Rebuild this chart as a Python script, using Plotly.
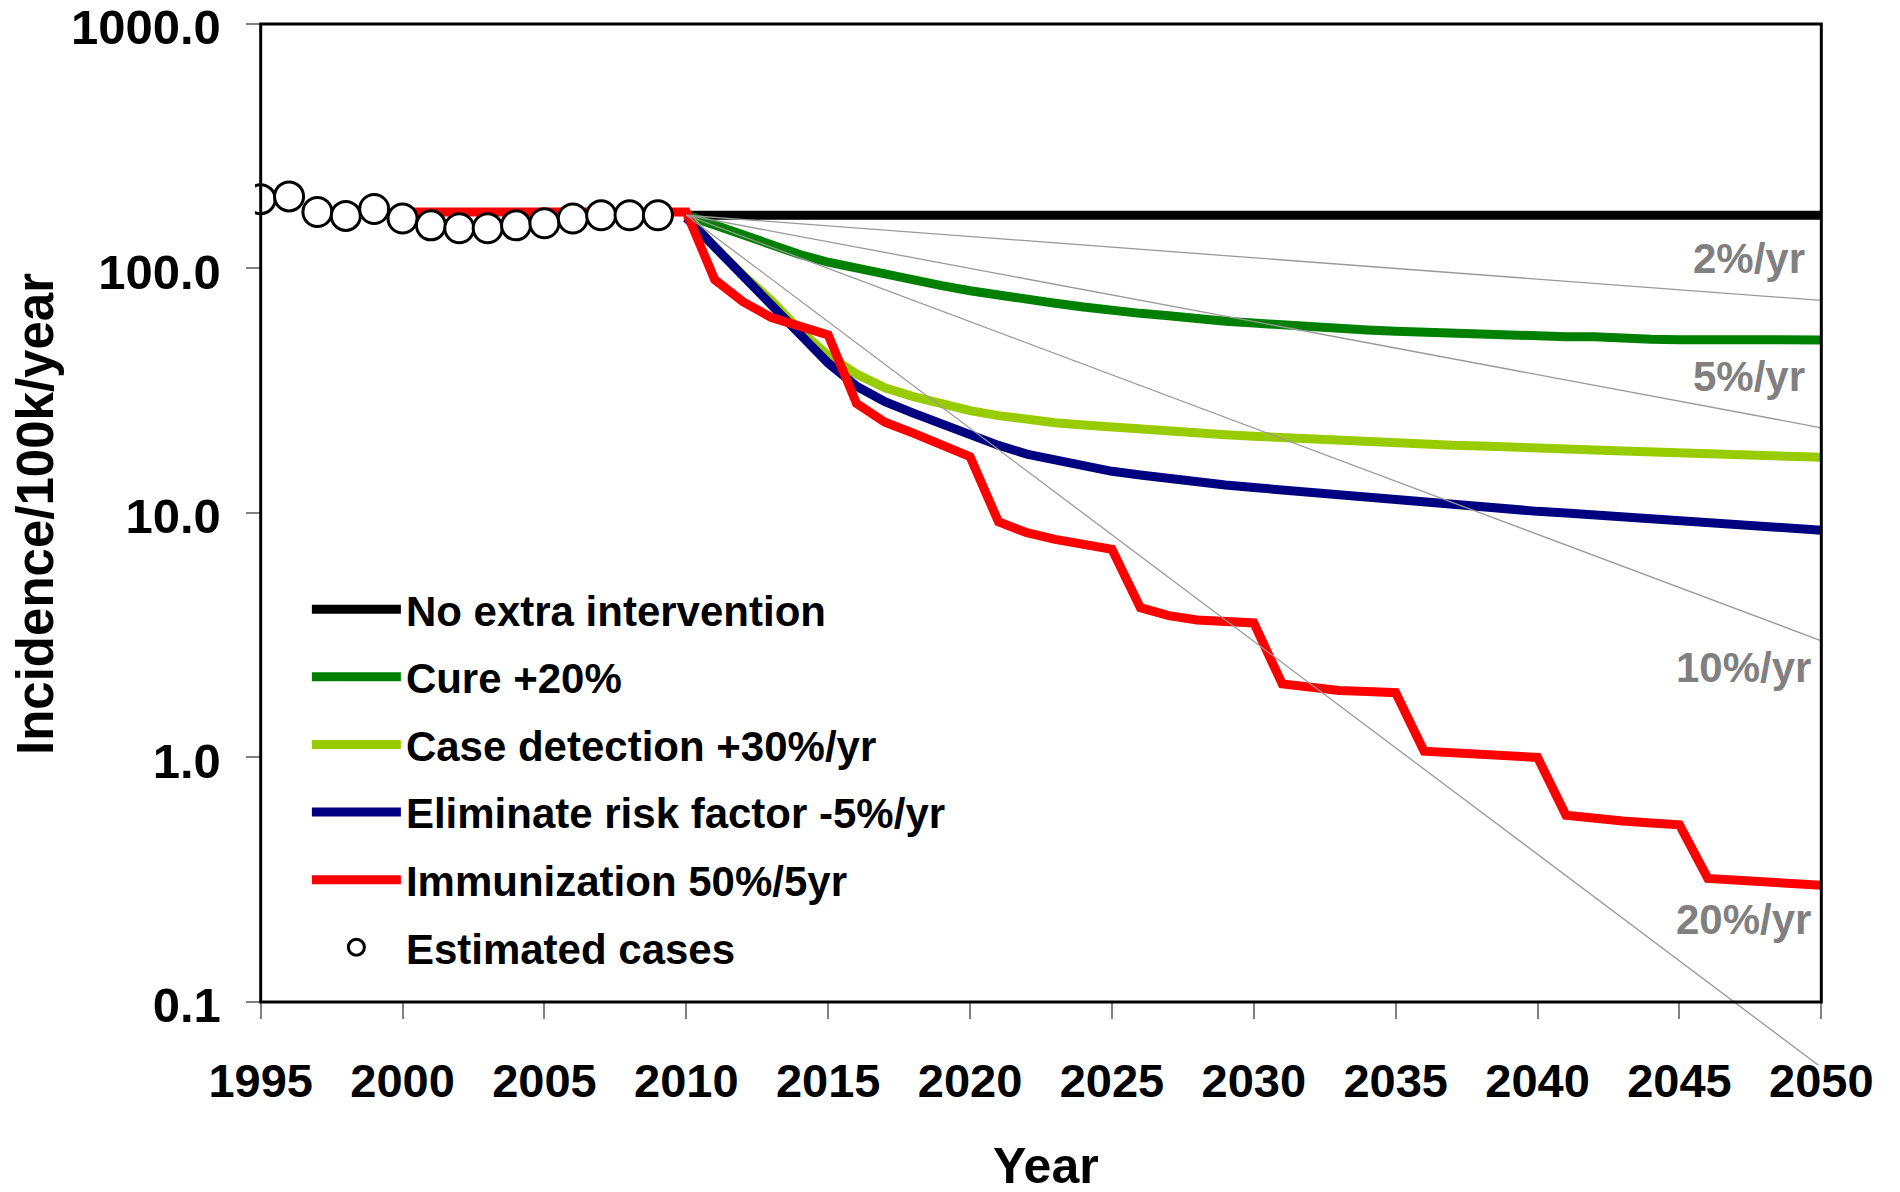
import plotly.graph_objects as go

# ---------------- data ----------------
obs_years = list(range(1995, 2010))
obs_values = [192, 197, 170, 164, 175, 160, 150, 146, 146, 150, 153, 160, 165, 165, 165]

model_years = list(range(2010, 2051))

black_years = [2010, 2050]
black_values = [165, 165]

green_values = [165, 150, 136, 124, 114, 106, 100, 94, 89, 85, 81, 77.5, 74.5, 72, 69.5,
                 67, 65.5, 64, 62, 60.8, 59.8, 58.6, 57.8, 57, 56, 55.3, 54.7, 54, 53.4, 53,
                 52.8, 52.6, 52.5, 52.4, 51.3, 51.1, 51.1, 51, 51, 51, 51]

lime_values = [165, 122, 94, 74, 56, 44, 37, 32.5, 29.9, 27.8, 26.2, 25, 24.1, 23.4, 22.9,
               22.4, 22, 21.6, 21.2, 20.9, 20.6, 20.3, 20, 19.8, 19.5, 19.3, 19.1, 18.9, 18.8,
               18.7, 18.5, 18.3, 18.1, 17.9, 17.7, 17.5, 17.4, 17.3, 17.1, 17.0, 16.9]

blue_values = [161, 122, 93, 71, 53, 41, 33, 28.5, 25.6, 23, 20.8, 18.9, 17.4, 16.4, 15.5,
               14.8, 14.3, 13.8, 13.4, 13.0, 12.7, 12.4, 12.1, 11.8, 11.55, 11.3, 11.05, 10.8,
               10.55, 10.3, 10.15, 10.0, 9.8, 9.65, 9.5, 9.3, 9.15, 9.0, 8.8, 8.65, 8.5]

red_years = [2000] + model_years
red_values = [170, 170, 90, 73, 63, 58, 53.5, 28, 23.5, 21.2, 19, 17, 9.2, 8.3, 7.8, 7.4,
              7.1, 4.1, 3.8, 3.65, 3.6, 3.55, 2.0, 1.92, 1.88, 1.86, 1.84, 1.06, 1.04, 1.03,
              1.01, 1.0, 0.58, 0.56, 0.55, 0.54, 0.53, 0.32, 0.315, 0.31, 0.305, 0.30]

rate_years = [2010, 2050]
rate_lines = {
    "2%/yr": [165, 74],
    "5%/yr": [165, 22.3],
    "10%/yr": [165, 3.0],
    "20%/yr": [165, 0.054],
}

x_tickvals = list(range(1995, 2051, 5))
y_tickvals = [0.1, 1, 10, 100, 1000]
y_ticktext = ["0.1", "1.0", "10.0", "100.0", "1000.0"]

# ---------------- figure ----------------
FONT = "Liberation Sans, Arial, Helvetica, sans-serif"
LW = 9

fig = go.Figure()

series = [
    ("No extra intervention", black_years, black_values, "#000000"),
    ("Cure +20%", model_years, green_values, "#008000"),
    ("Case detection +30%/yr", model_years, lime_values, "#99CC00"),
    ("Eliminate risk factor -5%/yr", model_years, blue_values, "#000080"),
    ("Immunization 50%/5yr", red_years, red_values, "#FF0000"),
]
for i, (name, xs, ys, col) in enumerate(series):
    fig.add_trace(go.Scatter(
        x=xs, y=ys, mode="lines", name=name,
        line=dict(color=col, width=LW),
        legendgroup=f"g{i}",
    ))

fig.add_trace(go.Scatter(
    x=obs_years, y=obs_values, mode="markers", name="Estimated cases",
    marker=dict(symbol="circle", size=29, color="white",
                line=dict(color="black", width=3)),
    legendgroup="g5",
))

for label, vals in rate_lines.items():
    fig.add_trace(go.Scatter(
        x=rate_years, y=vals, mode="lines", showlegend=False,
        line=dict(color="#999999", width=1.3), hoverinfo="skip",
    ))

# frame of the plotting region (0.1 .. 1000, 1995 .. 2050)
fig.add_shape(type="rect", xref="x", yref="y", x0=1995, x1=2050, y0=0.1, y1=1000,
              line=dict(color="black", width=3), layer="above")

# rate labels
label_pos = {"2%/yr": (2.040, 14), "5%/yr": (1.557, 14), "10%/yr": (0.367, 8), "20%/yr": (-0.664, 8)}
for label, (ly, xs) in label_pos.items():
    fig.add_annotation(x=2050, y=ly, xref="x", yref="y", text=label, showarrow=False,
                       xanchor="right", yanchor="middle", xshift=-xs,
                       font=dict(family=FONT, size=42, color="#808080", weight="bold"))

# axis titles
fig.add_annotation(x=-0.1393, y=0.5268, xref="paper", yref="paper", text="Incidence/100k/year",
                   textangle=-90, showarrow=False, xanchor="center", yanchor="middle",
                   font=dict(family=FONT, size=51, color="black", weight="bold"))
fig.add_annotation(x=0.503, y=-0.097, xref="paper", yref="paper", text="Year",
                   showarrow=False, xanchor="center", yanchor="middle",
                   font=dict(family=FONT, size=50, color="black", weight="bold"))

fig.update_layout(
    width=1892, height=1184,
    margin=dict(l=247, r=73, t=11, b=127, autoexpand=False),
    paper_bgcolor="white", plot_bgcolor="white",
    font=dict(family=FONT, color="black"),
    showlegend=True,
    legend=dict(
        x=0.033, y=0.468, xanchor="left", yanchor="top",
        bgcolor="rgba(0,0,0,0)", borderwidth=0,
        font=dict(family=FONT, size=42, color="black", weight="bold"),
        itemwidth=89, traceorder="grouped", tracegroupgap=10,
    ),
    xaxis=dict(
        range=[1994.8, 2050.2], anchor="free", position=0.06024, automargin=False,
        showline=False, showgrid=False, zeroline=False,
        ticks="outside", ticklen=16, tickwidth=2, tickcolor="#808080",
        tickvals=x_tickvals, ticklabelstandoff=22, ticklabeloverflow="allow",
        tickfont=dict(family=FONT, size=47, color="black", weight="bold"),
    ),
    yaxis=dict(
        type="log", range=[-1.2577, 3.02], anchor="free", position=0.00361, automargin=False,
        showline=False, showgrid=False, zeroline=False,
        ticks="outside", ticklen=15, tickwidth=2, tickcolor="#808080",
        tickvals=y_tickvals, ticktext=y_ticktext, ticklabelstandoff=15,
        ticklabeloverflow="allow", ticklabelshift=3,
        tickfont=dict(family=FONT, size=49, color="black", weight="bold"),
    ),
)

fig.write_html("out.html")
